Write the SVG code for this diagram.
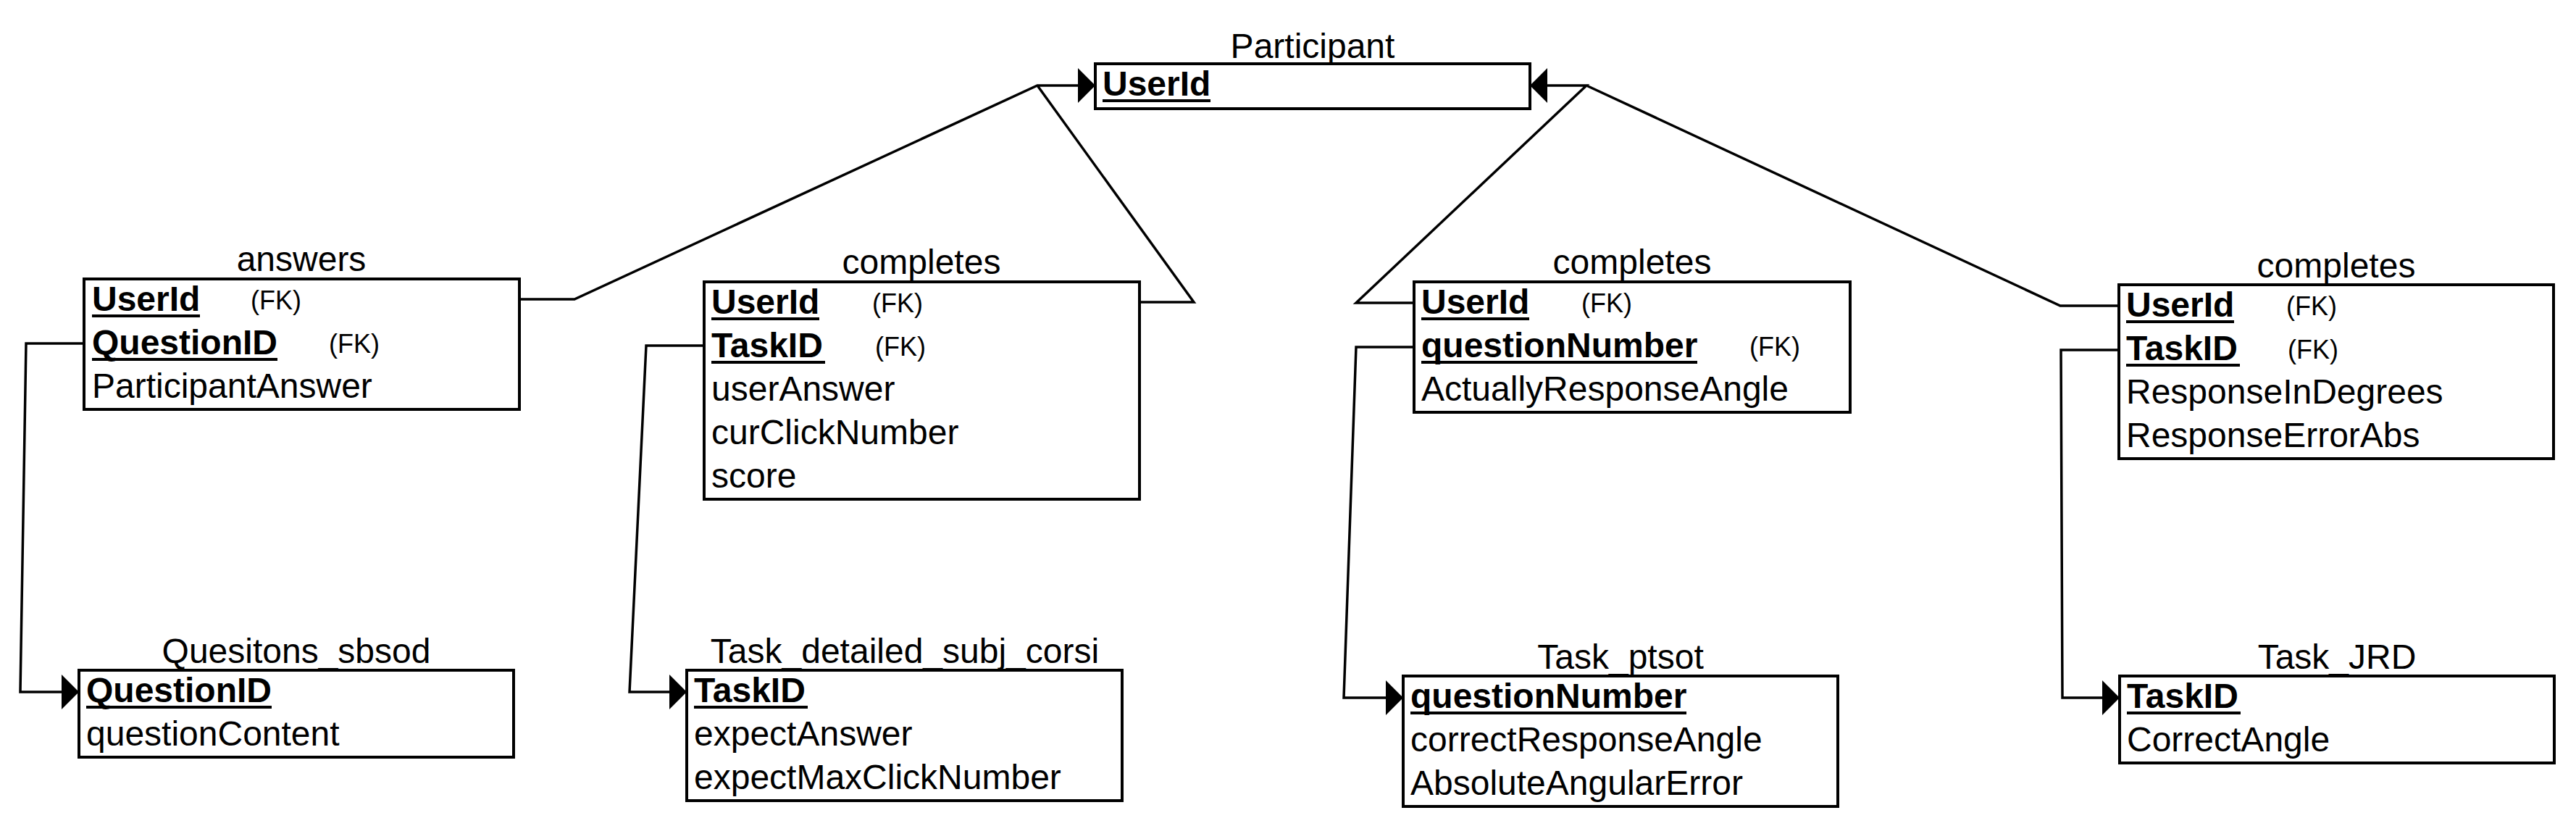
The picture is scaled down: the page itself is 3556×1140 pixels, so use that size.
<svg xmlns="http://www.w3.org/2000/svg" width="3556" height="1140" viewBox="0 0 3556 1140">
<style>
.box{fill:#fff;stroke:#000;stroke-width:4}
.t{font-family:"Liberation Sans",Arial,sans-serif;font-size:48px;fill:#000}
.title{text-anchor:middle}
.pk{font-weight:bold}
.fk{font-family:"Liberation Sans",Arial,sans-serif;font-size:36px;fill:#000}
.ul{stroke:#000;stroke-width:4}
.conn{fill:none;stroke:#000;stroke-width:3.5;stroke-linejoin:miter}
</style>
<defs>
<marker id="arr" markerUnits="userSpaceOnUse" markerWidth="26" markerHeight="50" refX="24" refY="24" orient="auto" overflow="visible">
<path d="M0,0 L24,24 L0,48 Z" fill="#000"/>
</marker>
</defs>
<rect width="3556" height="1140" fill="#fff"/>
<g id="connectors">
<path class="conn" d="M717 413 L793 413 L1432 118 L1512 118" marker-end="url(#arr)"/>
<path class="conn" d="M1572 417 L1648 417 L1432 118"/>
<path class="conn" d="M1952 418 L1872 418 L2190 118 L2112 118" marker-end="url(#arr)"/>
<path class="conn" d="M2925 422 L2844 422 L2190 118"/>
<path class="conn" d="M116 474 L36 474 L28 955 L109 955" marker-end="url(#arr)"/>
<path class="conn" d="M972 477 L892 477 L869 955 L948 955" marker-end="url(#arr)"/>
<path class="conn" d="M1952 479 L1872 479 L1855 963 L1937 963" marker-end="url(#arr)"/>
<path class="conn" d="M2925 483 L2845 483 L2847 963 L2926 963" marker-end="url(#arr)"/>
</g>
<g id="participant">
<text class="t title" x="1812" y="80">Participant</text>
<rect class="box" x="1512" y="88" width="600" height="62"/>
<text class="t pk" x="1522" y="132">UserId</text>
<line class="ul" x1="1522" y1="139" x2="1671" y2="139"/>
</g>
<g id="answers">
<text class="t title" x="416" y="374">answers</text>
<rect class="box" x="116" y="385" width="601" height="180"/>
<text class="t pk" x="127" y="429">UserId</text>
<line class="ul" x1="127" y1="436" x2="276" y2="436"/>
<text class="fk" x="346" y="427">(FK)</text>
<text class="t pk" x="127" y="489">QuestionID</text>
<line class="ul" x1="127" y1="496" x2="383" y2="496"/>
<text class="fk" x="454" y="487">(FK)</text>
<text class="t" x="127" y="549">ParticipantAnswer</text>
</g>
<g id="completes1">
<text class="t title" x="1272" y="378">completes</text>
<rect class="box" x="972" y="389" width="601" height="300"/>
<text class="t pk" x="982" y="433">UserId</text>
<line class="ul" x1="982" y1="440" x2="1131" y2="440"/>
<text class="fk" x="1204" y="431">(FK)</text>
<text class="t pk" x="982" y="493">TaskID</text>
<line class="ul" x1="982" y1="500" x2="1139" y2="500"/>
<text class="fk" x="1208" y="491">(FK)</text>
<text class="t" x="982" y="553">userAnswer</text>
<text class="t" x="982" y="613">curClickNumber</text>
<text class="t" x="982" y="673">score</text>
</g>
<g id="completes2">
<text class="t title" x="2253" y="378">completes</text>
<rect class="box" x="1952" y="389" width="602" height="180"/>
<text class="t pk" x="1962" y="433">UserId</text>
<line class="ul" x1="1962" y1="440" x2="2111" y2="440"/>
<text class="fk" x="2183" y="431">(FK)</text>
<text class="t pk" x="1962" y="493">questionNumber</text>
<line class="ul" x1="1962" y1="500" x2="2343" y2="500"/>
<text class="fk" x="2415" y="491">(FK)</text>
<text class="t" x="1962" y="553">ActuallyResponseAngle</text>
</g>
<g id="completes3">
<text class="t title" x="3225" y="383">completes</text>
<rect class="box" x="2925" y="393" width="600" height="240"/>
<text class="t pk" x="2935" y="437">UserId</text>
<line class="ul" x1="2935" y1="444" x2="3084" y2="444"/>
<text class="fk" x="3156" y="435">(FK)</text>
<text class="t pk" x="2935" y="497">TaskID</text>
<line class="ul" x1="2935" y1="504" x2="3092" y2="504"/>
<text class="fk" x="3158" y="495">(FK)</text>
<text class="t" x="2935" y="557">ResponseInDegrees</text>
<text class="t" x="2935" y="617">ResponseErrorAbs</text>
</g>
<g id="questions_sbsod">
<text class="t title" x="409" y="915">Quesitons_sbsod</text>
<rect class="box" x="109" y="925" width="600" height="120"/>
<text class="t pk" x="119" y="969">QuestionID</text>
<line class="ul" x1="119" y1="976" x2="375" y2="976"/>
<text class="t" x="119" y="1029">questionContent</text>
</g>
<g id="task_detailed_subj_corsi">
<text class="t title" x="1249" y="915">Task_detailed_subj_corsi</text>
<rect class="box" x="948" y="925" width="601" height="180"/>
<text class="t pk" x="958" y="969">TaskID</text>
<line class="ul" x1="958" y1="976" x2="1115" y2="976"/>
<text class="t" x="958" y="1029">expectAnswer</text>
<text class="t" x="958" y="1089">expectMaxClickNumber</text>
</g>
<g id="task_ptsot">
<text class="t title" x="2237" y="923">Task_ptsot</text>
<rect class="box" x="1937" y="933" width="600" height="180"/>
<text class="t pk" x="1947" y="977">questionNumber</text>
<line class="ul" x1="1947" y1="984" x2="2328" y2="984"/>
<text class="t" x="1947" y="1037">correctResponseAngle</text>
<text class="t" x="1947" y="1097">AbsoluteAngularError</text>
</g>
<g id="task_jrd">
<text class="t title" x="3226" y="923">Task_JRD</text>
<rect class="box" x="2926" y="933" width="600" height="120"/>
<text class="t pk" x="2936" y="977">TaskID</text>
<line class="ul" x1="2936" y1="984" x2="3093" y2="984"/>
<text class="t" x="2936" y="1037">CorrectAngle</text>
</g>
</svg>
